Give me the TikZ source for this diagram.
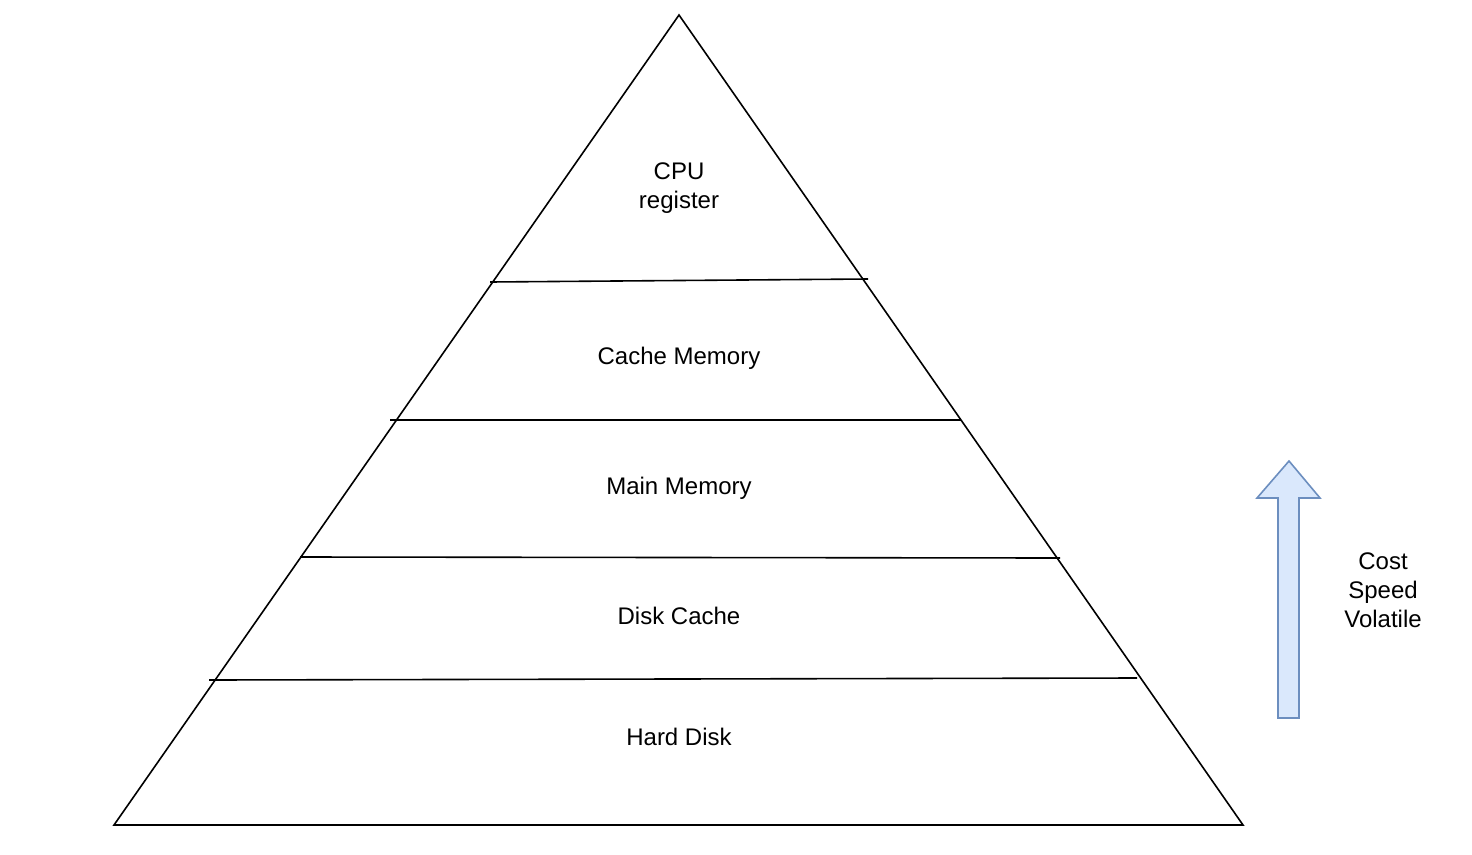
\documentclass[tikz,border=0pt]{standalone}
\usepackage{fontspec}
\setmainfont{Liberation Sans}
\usepackage{xcolor}
\definecolor{arrowfill}{HTML}{DAE8FC}
\definecolor{arrowdraw}{HTML}{6C8EBF}
\tikzstyle{level} = [align=center,font=\fontsize{24}{29}\selectfont]
\tikzstyle{edge} = [draw,line width=1.6pt]
\tikzstyle{split} = [edge]
\begin{document}
\begin{tikzpicture}[x=1pt,y=-1pt]
  \useasboundingbox (0,0) rectangle (1472,854);

  % pyramid corners
  \coordinate (top) at (679,15);
  \coordinate (bl) at (114,825);
  \coordinate (br) at (1243,825);
  \draw[edge] (top) -- (br) -- (bl) -- cycle;

  % dividing lines
  \coordinate (a1) at (490,282);  \coordinate (a2) at (868,279);
  \coordinate (b1) at (390,420);  \coordinate (b2) at (961,420);
  \coordinate (c1) at (300,557);  \coordinate (c2) at (1060,558);
  \coordinate (d1) at (209,680);  \coordinate (d2) at (1137,678);
  \draw[split] (a1) -- (a2);
  \draw[split] (b1) -- (b2);
  \draw[split] (c1) -- (c2);
  \draw[split] (d1) -- (d2);

  \node[level] (cpu) at (679,188) {CPU\\register};
  \node[level] (cache) at (679,358) {Cache Memory};
  \node[level] (main) at (679,488) {Main Memory};
  \node[level] (dcache) at (679,616) {Disk Cache};
  \node[level] (hdd) at (679,737) {Hard Disk};

  % arrow on the right
  \draw[line width=1.6pt,draw=arrowdraw,fill=arrowfill]
    (1278,718) -- (1278,498) -- (1257,498) -- (1289,461) -- (1320,498)
    -- (1299,498) -- (1299,718) -- cycle;
  \node[level] (props) at (1383,590) {Cost\\Speed\\Volatile};

\end{tikzpicture}
\end{document}
